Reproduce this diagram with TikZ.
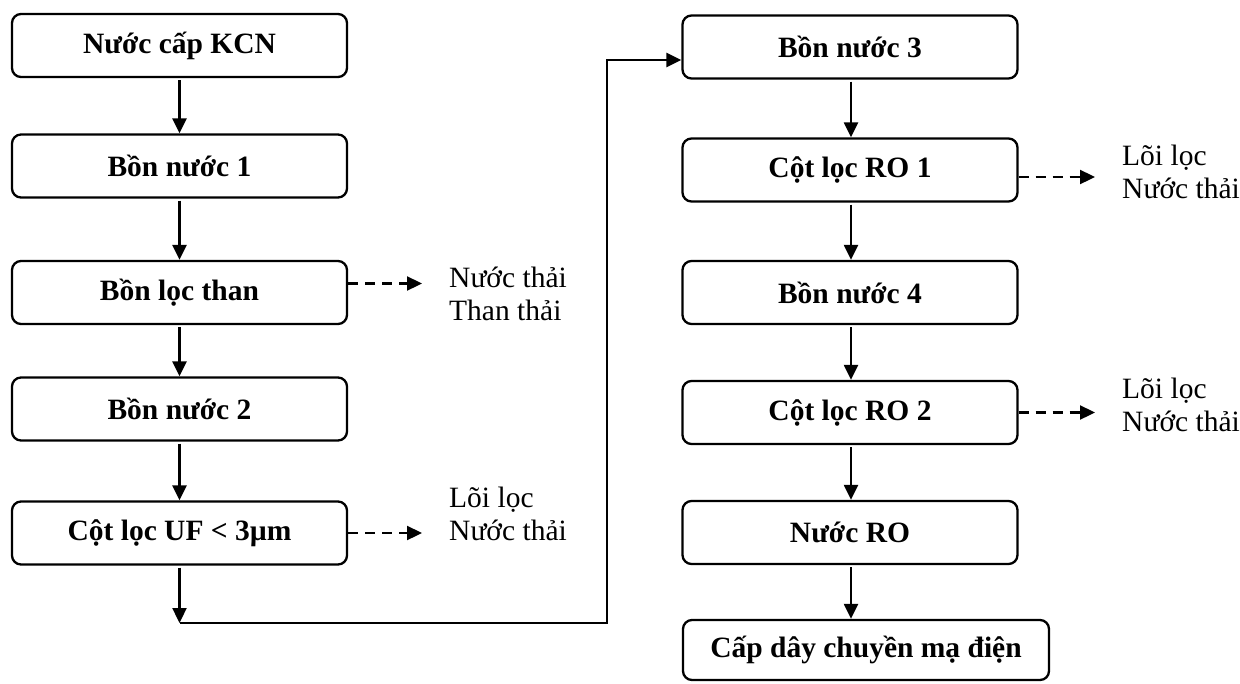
\documentclass[tikz,border=0pt]{standalone}
\usepackage{fontspec}
\setmainfont{Liberation Serif}
\usetikzlibrary{arrows.meta,calc}
\begin{document}
\begin{tikzpicture}[x=1pt,y=-1pt,
  stage/.style={draw, line width=2.3pt, rounded corners=9pt,
    minimum width=335pt, minimum height=63pt, inner sep=0pt,
    font=\fontsize{29.5}{34}\selectfont\bfseries},
  flow/.style={line width=2.3pt, -{Triangle[length=15pt,width=14pt]}},
  waste/.style={line width=2.3pt, dash pattern=on 10pt off 7pt,
    -{Triangle[length=15pt,width=14pt]}, shorten >=27pt},
  note/.style={anchor=west, align=left, inner sep=0pt,
    font=\fontsize{29.5}{33}\selectfont}
]
\useasboundingbox (0,0) rectangle (1240,683);

% left column
\node[stage] (b1) at (179.5,45.5)  {Nước cấp KCN};
\node[stage] (b2) at (179.5,166)   {Bồn nước 1};
\node[stage] (b3) at (179.5,292.5) {Bồn lọc than};
\node[stage] (b4) at (179.5,409)   {Bồn nước 2};
\node[stage] (b5) at (179.5,533)   {Cột lọc UF < 3µm};

% right column
\node[stage] (r1) at (850,47)    {Bồn nước 3};
\node[stage] (r2) at (850,170)   {Cột lọc RO 1};
\node[stage] (r3) at (850,292.5) {Bồn nước 4};
\node[stage] (r4) at (850,412.5) {Cột lọc RO 2};
\node[stage] (r5) at (850,532.5) {Nước RO};
\node[stage, minimum width=366pt, minimum height=60pt] (r6) at (866,650) {Cấp dây chuyền mạ điện};

% by-product labels
\node[note] (w3) at (449,293.5) {Nước thải\\Than thải};
\node[note] (w5) at (449,514)   {Lõi lọc\\Nước thải};
\node[note] (w2) at (1122,171.5) {Lõi lọc\\Nước thải};
\node[note] (w4) at (1122,405)   {Lõi lọc\\Nước thải};

% main flow, left column
\draw[flow, shorten <=2pt] (b1.south) -- (b2.north);
\draw[flow, shorten <=2pt] (b2.south) -- (b3.north);
\draw[flow, shorten <=2pt] (b3.south) -- (b4.north);
\draw[flow, shorten <=2pt] (b4.south) -- (b5.north);

% transfer to the right column
\coordinate (turn)  at (179.5,623);
\coordinate (riser) at (607,623);
\draw[flow, shorten <=2pt] (b5.south) -- (turn);
\draw[flow] (turn) -- (riser) |- ([yshift=-13pt]r1.west);

% main flow, right column
\draw[flow, shorten <=2pt] ([xshift=1pt]r1.south) -- ([xshift=1pt]r2.north);
\draw[flow, shorten <=2pt] ([xshift=1pt]r2.south) -- ([xshift=1pt]r3.north);
\draw[flow, shorten <=2pt] ([xshift=1pt]r3.south) -- ([xshift=1pt]r4.north);
\draw[flow, shorten <=2pt] ([xshift=1pt]r4.south) -- ([xshift=1pt]r5.north);
\draw[flow, shorten <=2pt] ([xshift=1pt]r5.south) -- ([xshift=1pt]r5.south |- r6.north);

% waste streams
\draw[waste] ([yshift=9pt]b3.east) -- ([yshift=9pt]b3.east -| w3.west);
\draw[waste] (b5.east) -- (b5.east -| w5.west);
\draw[waste] ([yshift=-7pt]r2.east) -- ([yshift=-7pt]r2.east -| w2.west);
\draw[waste] (r4.east) -- (r4.east -| w4.west);
\end{tikzpicture}
\end{document}
